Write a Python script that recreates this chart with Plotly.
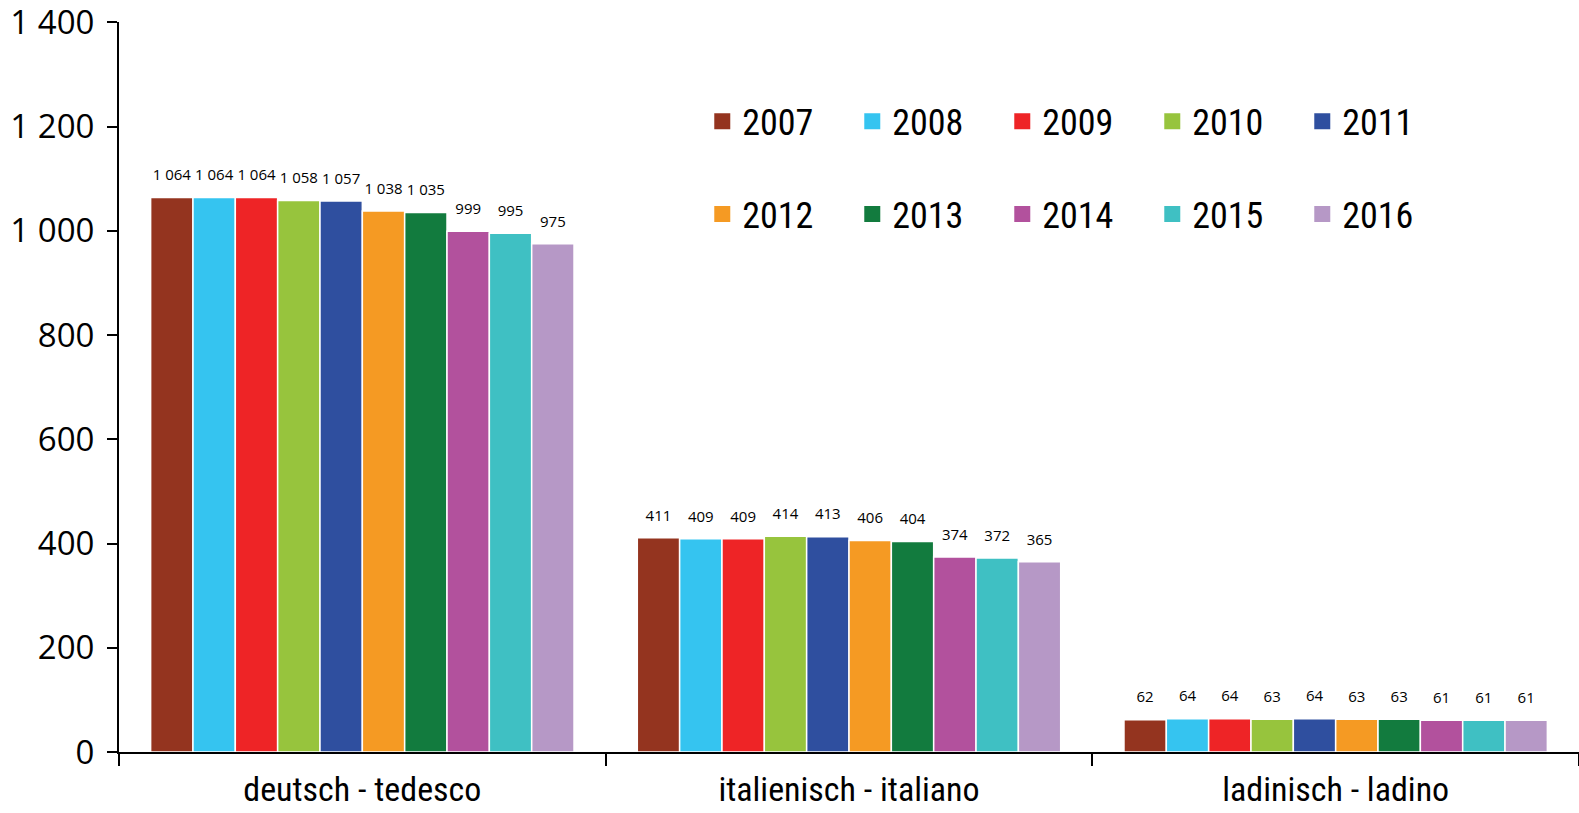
import plotly.graph_objects as go

categories = ["deutsch - tedesco", "italienisch - italiano", "ladinisch - ladino"]
years = ["2007", "2008", "2009", "2010", "2011", "2012", "2013", "2014", "2015", "2016"]
deutsch = [1064, 1064, 1064, 1058, 1057, 1038, 1035, 999, 995, 975]
italienisch = [411, 409, 409, 414, 413, 406, 404, 374, 372, 365]
ladinisch = [62, 64, 64, 63, 64, 63, 63, 61, 61, 61]
colors = ["#94341f", "#35c4f0", "#ee2426", "#97c43d", "#2f4f9f",
          "#f59a23", "#127b3e", "#b2519d", "#3fc0c3", "#b698c6"]

condensed = "Liberation Sans Narrow, Roboto Condensed, Open Sans, sans-serif"

fig = go.Figure()
# bars
for i, yr in enumerate(years):
    vals = [deutsch[i], italienisch[i], ladinisch[i]]
    fig.add_trace(go.Bar(
        x=categories, y=vals, name=yr,
        marker=dict(color=colors[i], line=dict(color="white", width=1.5)),
        showlegend=False, hoverinfo="skip",
    ))
# value labels, grouped like the bars
for i, yr in enumerate(years):
    vals = [deutsch[i], italienisch[i], ladinisch[i]]
    fig.add_trace(go.Scatter(
        x=categories, y=vals, mode="markers+text",
        marker=dict(size=20, opacity=0, color=colors[i]),
        text=[f"{v:,}".replace(",", " ") for v in vals],
        textposition="top center",
        textfont=dict(family="Open Sans", size=15, color="black"),
        showlegend=False, cliponaxis=False, hoverinfo="skip",
    ))
# legend entries
for i, yr in enumerate(years):
    fig.add_trace(go.Scatter(
        x=[None], y=[None], mode="markers", name=yr,
        marker=dict(symbol="square", size=17, color=colors[i]),
        xaxis="x2", yaxis="y2",
        legend="legend" if i < 5 else "legend2",
    ))

legend_common = dict(
    orientation="h", xanchor="left", yanchor="middle",
    font=dict(family=condensed, size=36, color="black"),
    entrywidth=105, entrywidthmode="pixels",
    bgcolor="rgba(0,0,0,0)", traceorder="normal",
)
fig.update_layout(
    width=1579, height=813,
    margin=dict(l=119, r=0, t=22, b=61),
    plot_bgcolor="white", paper_bgcolor="white",
    separators=". ",
    barmode="group", bargap=0.13, bargroupgap=0,
    scattermode="group", scattergap=0.13,
    legend=dict(x=0.3995, y=0.864, **legend_common),
    legend2=dict(x=0.3995, y=0.737, **legend_common),
    xaxis=dict(
        showline=True, linecolor="black", linewidth=2,
        ticks="outside", tickson="boundaries", ticklen=12, tickwidth=2, tickcolor="black",
        tickfont=dict(family=condensed, size=34, color="black"),
        ticklabelstandoff=6, automargin=False, ticklabeloverflow="allow",
    ),
    yaxis=dict(
        range=[0, 1400.5], tickvals=[0, 200, 400, 600, 800, 1000, 1200, 1400],
        tickformat=",",
        showline=True, linecolor="black", linewidth=2,
        ticks="outside", ticklen=10, tickwidth=2, tickcolor="black",
        showgrid=False, zeroline=False,
        tickfont=dict(family="Open Sans", size=33, color="black"),
        ticklabelstandoff=6, automargin=False, ticklabeloverflow="allow",
    ),
    xaxis2=dict(overlaying="x", visible=False),
    yaxis2=dict(overlaying="y", visible=False),
)
fig.write_html("out.html", config={"displayModeBar": False},
               post_script="document.body.style.margin='0';")
